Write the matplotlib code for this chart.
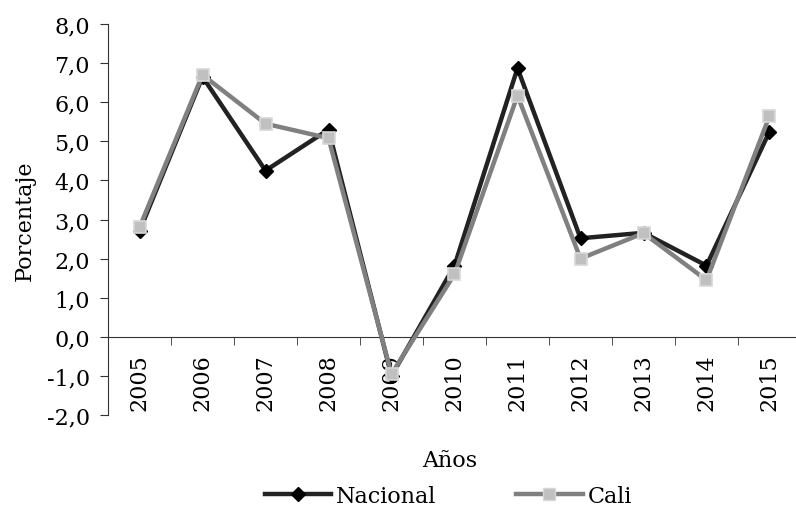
import numpy as np
import matplotlib.pyplot as plt
from matplotlib.lines import Line2D

anios = ['2005', '2006', '2007', '2008', '2009', '2010', '2011', '2012', '2013', '2014', '2015']
nacional = [2.7, 6.65, 4.25, 5.3, -1.0, 1.82, 6.87, 2.52, 2.66, 1.82, 5.25]
cali = [2.8, 6.7, 5.45, 5.08, -0.95, 1.6, 6.17, 2.0, 2.65, 1.45, 5.65]
yticks = np.arange(-2, 9, 1)

font = 'DejaVu Serif'
plt.rcParams['font.family'] = font
fs = 16

fig = plt.figure(figsize=(7.96, 5.10), dpi=100)
ax = fig.add_axes([108 / 796, 1 - 416 / 510, 693 / 796, 391 / 510])

x = np.arange(len(anios))
ax.plot(x, nacional, color='#222222', lw=3.2, marker='D', ms=7,
        mfc='black', mec='black', zorder=3, label='Nacional')
ax.plot(x, cali, color='#808080', lw=3.2, marker='s', ms=8.5,
        mfc='#c0c0c0', mec='#d8d8d8', mew=1.2, zorder=4, label='Cali')

ax.set_xlim(-0.5, len(anios) - 0.5)
ax.set_ylim(-2, 8)
ax.set_yticks(yticks)
ax.set_yticklabels(['{:.1f}'.format(v).replace('.', ',') for v in yticks], fontsize=fs)

ax.spines['top'].set_visible(False)
ax.spines['right'].set_visible(False)
ax.spines['bottom'].set_position(('data', 0))
ax.spines['left'].set_color('#333333')
ax.spines['bottom'].set_color('#333333')

ax.set_xticks(x)
ax.set_xticklabels(anios, rotation=90, fontsize=fs)
ax.set_xticks(np.arange(-0.5, len(anios), 1), minor=True)
ax.tick_params(axis='x', which='major', length=0, pad=12)
ax.tick_params(axis='x', which='minor', length=6, color='#333333')
ax.tick_params(axis='y', length=6, color='#333333', pad=7)

ax.set_ylabel('Porcentaje', fontsize=fs, labelpad=8)
fig.text(0.565, 1 - 461 / 510, 'Años', ha='center', va='center', fontsize=fs)

handles = [
    Line2D([], [], color='#222222', lw=3.2, marker='D', ms=7, mfc='black', mec='black'),
    Line2D([], [], color='#808080', lw=3.2, marker='s', ms=8.5, mfc='#c0c0c0', mec='#d8d8d8'),
]
fig.legend(handles, ['Nacional', 'Cali'], loc='center', bbox_to_anchor=(0.563, 1 - 497 / 510),
           ncol=2, frameon=False, fontsize=fs, handlelength=3.0, handletextpad=0.2,
           columnspacing=3.6, borderpad=0, borderaxespad=0)

fig.savefig('out.png', dpi=100)
